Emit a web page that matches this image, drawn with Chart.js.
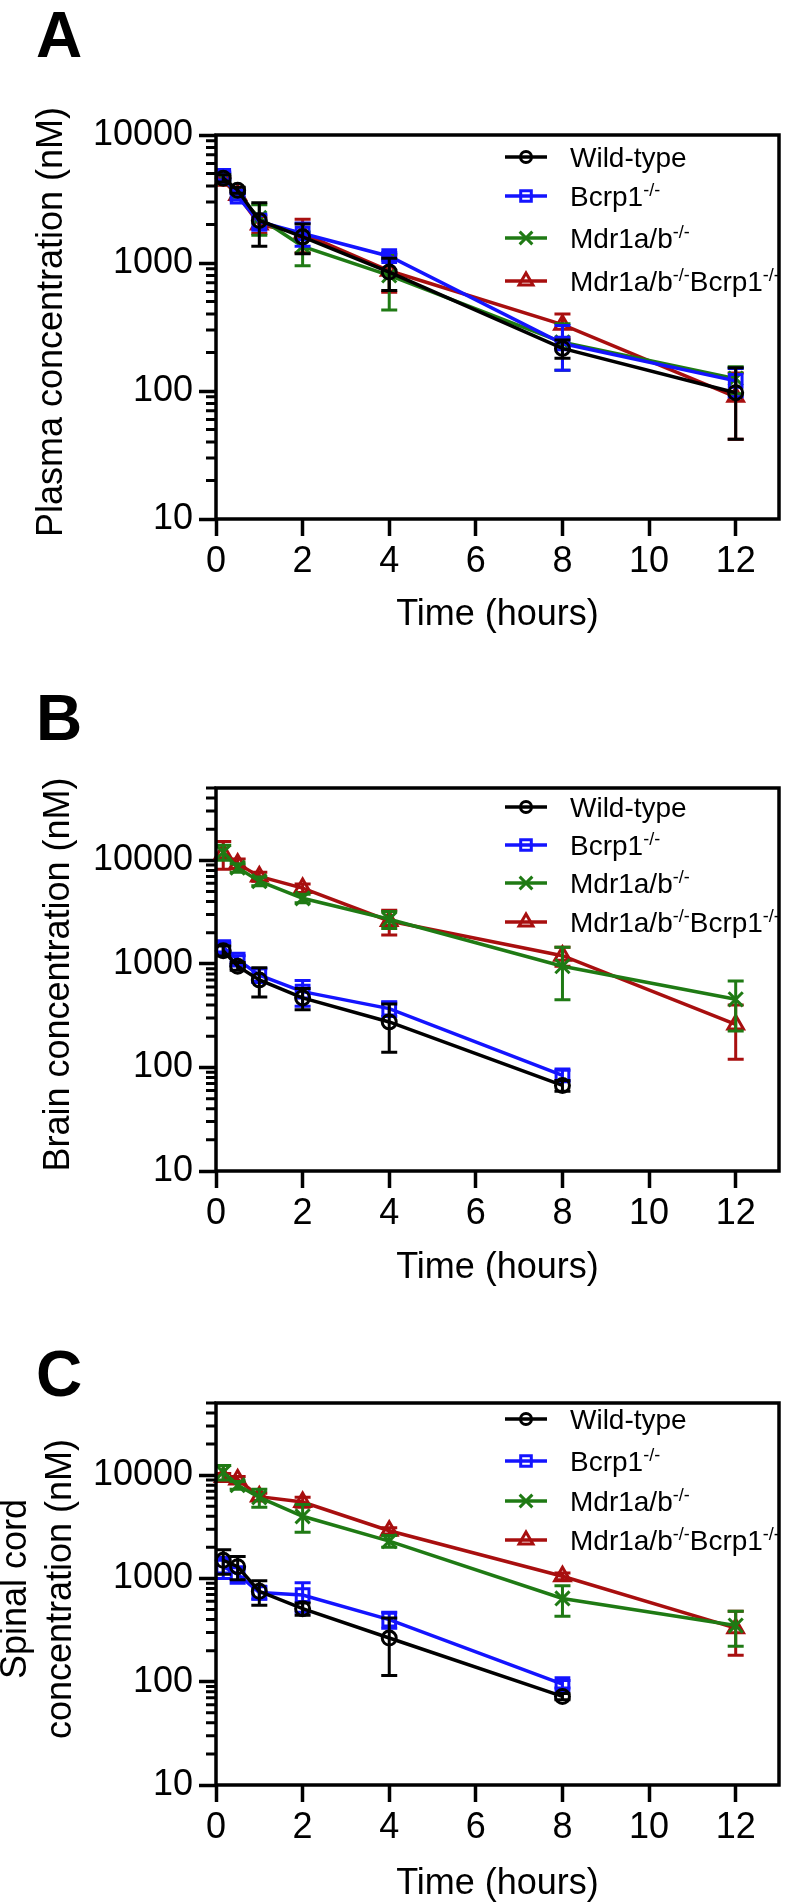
<!DOCTYPE html>
<html>
<head>
<meta charset="utf-8">
<script src="https://cdn.jsdelivr.net/npm/chart.js@4/dist/chart.umd.min.js"></script>
<style>
html, body { margin: 0; padding: 0; background: #fff; }
body { width: 792px; height: 1902px; position: relative; overflow: hidden; font-family: "Liberation Sans", Arial, sans-serif; }
canvas { position: absolute; left: 0; }
.letter { position: absolute; left: 36px; font-size: 64px; line-height: 64px; font-weight: bold; color: #000; }
</style>
</head>
<body>

<div class="letter" style="top:3px">A</div>
<div class="letter" style="top:686px">B</div>
<div class="letter" style="top:1342px">C</div>

<canvas id="chartA" width="792" height="530" style="top:105px"></canvas>
<canvas id="chartB" width="792" height="530" style="top:758px"></canvas>
<canvas id="chartC" width="792" height="531" style="top:1373px"></canvas>

<script>
const times = [0.167, 0.5, 1, 2, 4, 8, 12];
const xTicks = [0, 2, 4, 6, 8, 10, 12];
const yTicks = [10, 100, 1000, 10000];

const seriesNames = ["Wild-type", "Bcrp1<sup>-/-</sup>", "Mdr1a/b<sup>-/-</sup>", "Mdr1a/b<sup>-/-</sup>Bcrp1<sup>-/-</sup>"];

// A - plasma (mean, SD)
const plasmaWT = [4600, 3700, 2150, 1600, 850, 215, 97];
const plasmaWTsd = [300, 200, 800, 420, 240, 35, 55];
const plasmaBcrp = [4800, 3300, 2100, 1700, 1130, 235, 120];
const plasmaBcrpSd = [350, 200, 300, 350, 80, 90, 30];
const plasmaMdr = [4600, 3400, 2250, 1350, 800, 240, 125];
const plasmaMdrSd = [300, 200, 600, 400, 370, 95, 30];
const plasmaDko = [4400, 3400, 2000, 1700, 870, 330, 90];
const plasmaDkoSd = [300, 200, 300, 500, 280, 70, 48];

// B - brain
const brainWT = [1340, 950, 700, 470, 275, 67, null];
const brainWTsd = [150, 80, 220, 110, 135, 8, null];
const brainBcrp = [1450, 1100, 780, 540, 370, 84, null];
const brainBcrpSd = [150, 100, 120, 150, 60, 10, null];
const brainMdr = [12000, 8500, 6300, 4300, 2700, 950, 455];
const brainMdrSd = [2000, 800, 600, 400, 500, 500, 230];
const brainDko = [11700, 9300, 7000, 5400, 2600, 1200, 260];
const brainDkoSd = [3500, 1000, 700, 500, 700, 250, 140];

// C - spinal cord
const spinalWT = [1500, 1300, 750, 510, 265, 72, null];
const spinalWTsd = [400, 330, 200, 70, 150, 5, null];
const spinalBcrp = [1300, 1100, 730, 690, 400, 95, null];
const spinalBcrpSd = [300, 200, 100, 220, 70, 8, null];
const spinalMdr = [10700, 8000, 6100, 4000, 2300, 640, 350];
const spinalMdrSd = [1700, 700, 1200, 1200, 300, 210, 130];
const spinalDko = [9600, 9100, 6200, 5500, 2900, 1050, 330];
const spinalDkoSd = [800, 600, 500, 600, 200, 80, 150];

const family = "'Liberation Sans', Arial, sans-serif";
const colors = ["#000000", "#1414ff", "#1f7a14", "#a80f0f"];
const markers = ["circle", "rect", "crossRot", "triangle"];
const markerRadius = [7, 9, 10, 9];
const legendRadius = [5.5, 7.5, 9, 8];

const panels = [
  { id: "chartA", top: 105, height: 530, plotTop: 135, plotBottom: 519, xTitleY: 615, yMax: 10000,
    yTitle: ["Plasma concentration (nM)"], yTitleX: [52], legendY: [157, 196, 238, 281],
    values: [plasmaWT, plasmaBcrp, plasmaMdr, plasmaDko], errors: [plasmaWTsd, plasmaBcrpSd, plasmaMdrSd, plasmaDkoSd] },
  { id: "chartB", top: 758, height: 530, plotTop: 788, plotBottom: 1171, xTitleY: 1268, yMax: 50000,
    yTitle: ["Brain concentration (nM)"], yTitleX: [59], legendY: [807, 845, 883, 922],
    values: [brainWT, brainBcrp, brainMdr, brainDko], errors: [brainWTsd, brainBcrpSd, brainMdrSd, brainDkoSd] },
  { id: "chartC", top: 1373, height: 531, plotTop: 1403, plotBottom: 1785, xTitleY: 1884, yMax: 50000,
    yTitle: ["Spinal cord", "concentration (nM)"], yTitleX: [16, 61], legendY: [1419, 1461, 1501, 1540],
    values: [spinalWT, spinalBcrp, spinalMdr, spinalDko], errors: [spinalWTsd, spinalBcrpSd, spinalMdrSd, spinalDkoSd] }
];

function drawMarker(ctx, style, x, y, r) {
  ctx.beginPath();
  if (style === "circle") {
    ctx.arc(x, y, r, 0, Math.PI * 2);
  } else if (style === "rect") {
    const s = r * Math.SQRT1_2;
    ctx.rect(x - s, y - s, 2 * s, 2 * s);
  } else if (style === "triangle") {
    ctx.moveTo(x, y - r);
    ctx.lineTo(x + r * 0.866, y + r / 2);
    ctx.lineTo(x - r * 0.866, y + r / 2);
    ctx.closePath();
  } else {
    const d = r * Math.SQRT1_2;
    ctx.moveTo(x - d, y - d); ctx.lineTo(x + d, y + d);
    ctx.moveTo(x + d, y - d); ctx.lineTo(x - d, y + d);
  }
  ctx.stroke();
}

function drawRich(ctx, text, x, y) {
  const parts = text.split(/(<sup>.*?<\/sup>)/).filter(s => s.length);
  parts.forEach(part => {
    if (part.indexOf("<sup>") === 0) {
      const t = part.slice(5, -6);
      ctx.font = "18px " + family;
      ctx.fillText(t, x, y - 10);
      x += ctx.measureText(t).width;
    } else {
      ctx.font = "28px " + family;
      ctx.fillText(part, x, y);
      x += ctx.measureText(part).width;
    }
  });
}

const errorBars = {
  id: "errorBars",
  beforeDatasetDraw(chart, args) {
    const ds = chart.data.datasets[args.index];
    const ys = chart.scales.y;
    const ctx = chart.ctx;
    ctx.save();
    ctx.strokeStyle = ds.borderColor;
    ctx.lineWidth = 3;
    args.meta.data.forEach((pt, j) => {
      const m = ds.data[j].y;
      const s = ds.errors[j];
      if (!s) return;
      const top = ys.getPixelForValue(m + s);
      const bot = ys.getPixelForValue(Math.max(m - s, ys.min));
      ctx.beginPath();
      ctx.moveTo(pt.x, top); ctx.lineTo(pt.x, bot);
      ctx.moveTo(pt.x - 8, top); ctx.lineTo(pt.x + 8, top);
      ctx.moveTo(pt.x - 8, bot); ctx.lineTo(pt.x + 8, bot);
      ctx.stroke();
    });
    ctx.restore();
  }
};

function makeOverlay(p) {
  return {
    id: "overlay",
    afterDatasetsDraw(chart) {
      const ctx = chart.ctx;
      const a = chart.chartArea;
      const ys = chart.scales.y;
      ctx.save();
      ctx.strokeStyle = "#000";
      ctx.lineWidth = 3.5;
      ctx.strokeRect(a.left, a.top, a.right - a.left, a.bottom - a.top);
      // minor log ticks
      ctx.lineWidth = 3;
      ctx.beginPath();
      for (let d = 10; d < p.yMax; d *= 10) {
        for (let k = 2; k <= 9; k++) {
          const v = k * d;
          if (v > p.yMax) break;
          const y = ys.getPixelForValue(v);
          ctx.moveTo(a.left - 10, y);
          ctx.lineTo(a.left, y);
        }
      }
      ctx.stroke();
      ctx.restore();
    },
    afterDraw(chart) {
      const ctx = chart.ctx;
      const a = chart.chartArea;
      ctx.save();
      // y axis title (drawn here so it is not squeezed to the axis height)
      ctx.fillStyle = "#000";
      ctx.font = "36px " + family;
      ctx.textAlign = "center";
      ctx.textBaseline = "middle";
      const cy = (a.top + a.bottom) / 2 - 5;
      p.yTitle.forEach((line, i) => {
        ctx.save();
        ctx.translate(p.yTitleX[i], cy);
        ctx.rotate(-Math.PI / 2);
        ctx.fillText(line, 0, 0);
        ctx.restore();
      });
      // legend
      ctx.textAlign = "left";
      ctx.textBaseline = "alphabetic";
      chart.data.datasets.forEach((ds, i) => {
        const y = p.legendY[i] - p.top;
        ctx.strokeStyle = colors[i];
        ctx.lineWidth = 3.5;
        ctx.beginPath();
        ctx.moveTo(505, y); ctx.lineTo(547, y);
        ctx.stroke();
        ctx.lineWidth = 3;
        drawMarker(ctx, markers[i], 526, y, legendRadius[i]);
        ctx.fillStyle = "#000";
        drawRich(ctx, seriesNames[i], 570, y + 10);
      });
      ctx.restore();
    }
  };
}

function buildDatasets(p) {
  return p.values.map((vals, i) => {
    const pts = [];
    const errs = [];
    vals.forEach((v, j) => {
      if (v === null) return;
      pts.push({ x: times[j], y: v });
      errs.push(p.errors[i][j]);
    });
    return {
      label: seriesNames[i].replace(/<\/?sup>/g, ""),
      data: pts,
      errors: errs,
      borderColor: colors[i],
      backgroundColor: "rgba(0,0,0,0)",
      borderWidth: 3.5,
      pointStyle: markers[i],
      pointRadius: markerRadius[i],
      pointBorderWidth: 3,
      pointBorderColor: colors[i],
      pointBackgroundColor: "rgba(0,0,0,0)",
      tension: 0,
      clip: false
    };
  });
}

function createChart(p) {
  const xHeight = p.top + p.height - p.plotBottom;
  new Chart(document.getElementById(p.id), {
    type: "line",
    data: { datasets: buildDatasets(p) },
    options: {
      responsive: false,
      animation: false,
      events: [],
      layout: { padding: { top: p.plotTop - p.top, right: 4, left: 0, bottom: 0 } },
      plugins: { legend: { display: false }, tooltip: { enabled: false } },
      scales: {
        x: {
          type: "linear", min: 0, max: 13,
          afterBuildTicks: s => { s.ticks = xTicks.map(v => ({ value: v })); },
          afterFit: s => { s.height = xHeight; },
          border: { display: false },
          grid: { drawOnChartArea: false, tickLength: 17, tickWidth: 3.5, tickColor: "#000" },
          ticks: { color: "#000", font: { size: 36, family: family }, padding: 4, maxRotation: 0, autoSkip: false },
          title: { display: true, text: "Time (hours)", color: "#000",
                   font: { size: 36, family: family, lineHeight: 1 },
                   padding: { top: 0, bottom: p.top + p.height - p.xTitleY - 18 } }
        },
        y: {
          type: "logarithmic", min: 10, max: p.yMax,
          afterBuildTicks: s => { s.ticks = yTicks.filter(v => v <= p.yMax).map(v => ({ value: v })); },
          afterFit: s => { s.width = 216; },
          border: { display: false },
          grid: { drawOnChartArea: false, tickLength: 17, tickWidth: 3.5, tickColor: "#000" },
          ticks: { color: "#000", font: { size: 36, family: family }, padding: 6, callback: v => String(v) }
        }
      }
    },
    plugins: [errorBars, makeOverlay(p)]
  });
}

panels.forEach(createChart);
</script>
</body>
</html>
